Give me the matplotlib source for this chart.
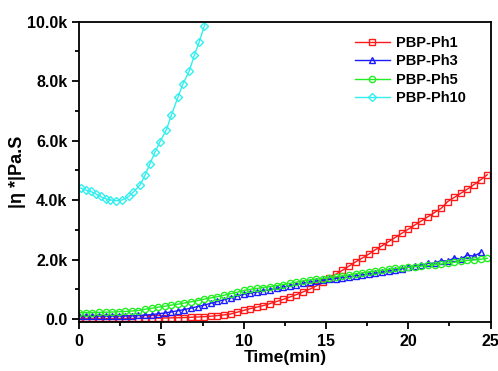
import matplotlib
matplotlib.use("Agg")
import matplotlib.pyplot as plt
from matplotlib.ticker import MultipleLocator, FuncFormatter

# time grid (min) for the three slow samples
t = [0.0, 0.4, 0.8, 1.2, 1.6, 2.0, 2.4, 2.8, 3.2, 3.6, 4.0, 4.4, 4.8, 5.2, 5.6, 6.0,
     6.4, 6.8, 7.2, 7.6, 8.0, 8.4, 8.8, 9.2, 9.6, 10.0, 10.4, 10.8, 11.2, 11.6, 12.0,
     12.4, 12.8, 13.2, 13.6, 14.0, 14.4, 14.8, 15.2, 15.6, 16.0, 16.4, 16.8, 17.2,
     17.6, 18.0, 18.4, 18.8, 19.2, 19.6, 20.0, 20.4, 20.8, 21.2, 21.6, 22.0, 22.4,
     22.8, 23.2, 23.6, 24.0, 24.4, 24.8]

ph1 = [20, 20, 20, 20, 20, 20, 20, 20, 20, 25, 25, 30, 30, 35, 40, 45,
       50, 60, 70, 80, 95, 115, 140, 170, 230, 290, 350, 400, 455, 520, 590,
       660, 740, 820, 910, 1000, 1110, 1240, 1370, 1510, 1640, 1780, 1920, 2050,
       2180, 2330, 2460, 2600, 2740, 2880, 3020, 3160, 3300, 3440, 3580, 3720, 3950,
       4090, 4230, 4370, 4520, 4680, 4850]

ph3 = [100, 100, 100, 100, 100, 100, 100, 105, 110, 120, 135, 150, 175, 205, 240, 280,
       320, 370, 420, 470, 530, 590, 650, 710, 770, 830, 870, 910, 950, 990, 1030,
       1080, 1120, 1160, 1200, 1240, 1270, 1300, 1330, 1360, 1390, 1420, 1450, 1480,
       1510, 1540, 1570, 1610, 1650, 1690, 1740, 1790, 1810, 1870, 1880, 1960, 1950,
       2050, 2020, 2150, 2110, 2240]

ph5 = [210, 215, 220, 225, 230, 235, 245, 255, 270, 285, 330, 360, 400, 430, 470, 500,
       540, 580, 620, 670, 710, 750, 800, 850, 900, 960, 1000, 1030, 1060, 1090, 1120,
       1160, 1200, 1240, 1280, 1310, 1340, 1360, 1390, 1420, 1450, 1480, 1520, 1550,
       1580, 1610, 1640, 1670, 1700, 1720, 1740, 1760, 1780, 1800, 1820, 1850, 1880,
       1910, 1940, 1970, 1990, 2010, 2040]

# PBP-Ph10 shoots off the top quickly
t10 = [0.1, 0.4, 0.7, 1.0, 1.3, 1.6, 1.9, 2.25, 2.6, 3.0, 3.3, 3.7, 4.0, 4.3, 4.6,
       4.9, 5.3, 5.6, 6.0, 6.3, 6.7, 7.0, 7.3, 7.6, 7.95]
ph10 = [4400, 4340, 4290, 4210, 4120, 4040, 4000, 3980, 4000, 4120, 4270, 4510, 4830,
        5220, 5600, 5950, 6360, 6850, 7450, 7900, 8350, 8870, 9320, 9840, 10400]

plt.rcParams['font.family'] = ['Liberation Sans', 'DejaVu Sans']
plt.rcParams['font.weight'] = 'bold'

fig = plt.figure(figsize=(4.98, 3.71), dpi=100)
ax = fig.add_axes([0.159, 0.132, 0.826, 0.81])

ms = 4.5
ax.plot(t, ph1, '-s', color='#ff1a1a', mfc='none', ms=ms, lw=1, mew=1, label='PBP-Ph1')
ax.plot(t[:len(ph3)], ph3, '-^', color='#1a1aff', mfc='none', ms=ms, lw=1, mew=1, label='PBP-Ph3')
ax.plot(t, ph5, '-o', color='#22ee22', mfc='none', ms=ms, lw=1, mew=1, label='PBP-Ph5')
ax.plot(t10, ph10, '-D', color='#33eeee', mfc='none', ms=ms - 0.5, lw=1, mew=1, label='PBP-Ph10')

ax.set_xlim(0, 25)
ax.set_ylim(-100, 10000)
ax.xaxis.set_major_locator(MultipleLocator(5))
ax.xaxis.set_minor_locator(MultipleLocator(2.5))
ax.yaxis.set_major_locator(MultipleLocator(2000))
ax.yaxis.set_minor_locator(MultipleLocator(1000))
ax.yaxis.set_major_formatter(FuncFormatter(lambda v, p: '0.0' if v == 0 else '%.1fk' % (v / 1000)))

ax.tick_params(which='both', direction='out', width=1.3, labelsize=11.5)
ax.tick_params(which='major', length=5)
ax.tick_params(which='minor', length=3)
for s in ax.spines.values():
    s.set_linewidth(1.3)

ax.set_xlabel('Time(min)', fontsize=12.5, fontweight='bold', labelpad=1)
ax.set_ylabel('|η *|Pa.S', fontsize=13, fontweight='bold', labelpad=1)

ax.legend(loc='upper right', bbox_to_anchor=(0.975, 1.0), frameon=False, fontsize=10.5,
          handlelength=2.4, borderaxespad=0.6, labelspacing=0.3, handletextpad=0.4)

fig.savefig('out.png', dpi=100)
